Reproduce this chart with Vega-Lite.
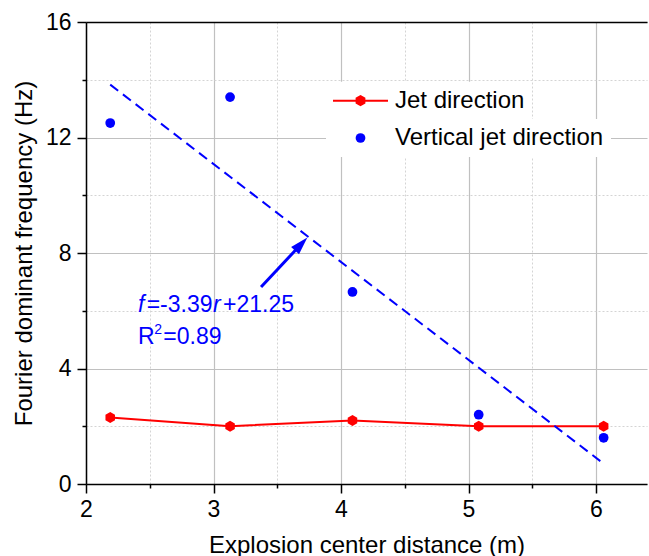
{
  "$schema": "https://vega.github.io/schema/vega-lite/v6.json",
  "width": 561,
  "height": 462,
  "autosize": {"type": "none"},
  "padding": {"left": 86, "top": 22, "right": 2, "bottom": 72},
  "config": {
    "view": {"stroke": null},
    "font": "Liberation Sans",
    "axis": {
      "labelFont": "Liberation Sans",
      "titleFont": "Liberation Sans",
      "labelFontSize": 23,
      "titleFontSize": 24,
      "labelColor": "#000000",
      "titleColor": "#000000",
      "titleFontWeight": "normal",
      "tickColor": "#000000",
      "domainColor": "#000000",
      "tickWidth": 1.5,
      "domainWidth": 1.5,
      "gridColor": "#c0c0c0",
      "gridWidth": 1.2,
      "tickSize": 9,
      "labelFlush": false,
      "labelOverlap": false
    },
    "legend": {"labelFont": "Liberation Sans", "labelFontSize": 24, "labelColor": "#000000", "labelLimit": 0, "padding": 7, "fillColor": "#ffffff"}
  },
  "datasets": {
    "pts": [
      {"series": "Jet direction", "r": 2.19, "f": 2.3},
      {"series": "Jet direction", "r": 3.13, "f": 2.0},
      {"series": "Jet direction", "r": 4.09, "f": 2.2},
      {"series": "Jet direction", "r": 5.08, "f": 2.0},
      {"series": "Jet direction", "r": 6.06, "f": 2.0},
      {"series": "Vertical jet direction", "r": 2.19, "f": 12.5},
      {"series": "Vertical jet direction", "r": 3.13, "f": 13.4},
      {"series": "Vertical jet direction", "r": 4.09, "f": 6.65},
      {"series": "Vertical jet direction", "r": 5.08, "f": 2.4},
      {"series": "Vertical jet direction", "r": 6.06, "f": 1.6}
    ],
    "fit": [
      {"r": 2.19, "f": 13.83},
      {"r": 6.07, "f": 0.67}
    ],
    "arrow": [
      {"r": 3.373, "f": 6.82, "r2": 3.688, "f2": 8.31}
    ],
    "italic": [
      {"t": "f", "r": 2.408, "f": 5.96},
      {"t": "r", "r": 2.997, "f": 5.96}
    ],
    "plain": [
      {"t": "=-3.39", "r": 2.476, "f": 5.96},
      {"t": "+21.25", "r": 3.075, "f": 5.96},
      {"t": "R", "r": 2.408, "f": 4.86},
      {"t": "=0.89", "r": 2.606, "f": 4.86}
    ],
    "sup": [
      {"t": "2", "r": 2.536, "f": 5.19}
    ]
  },
  "resolve": {"axis": {"x": "independent", "y": "independent"}},
  "layer": [
    {
      "data": {"name": "pts"},
      "mark": {"type": "point", "opacity": 0},
      "encoding": {
        "x": {"field": "r", "type": "quantitative", "scale": {"domain": [2, 6.4], "nice": false, "zero": false},
          "axis": {"orient": "bottom", "values": [2.5, 3.5, 4.5, 5.5], "grid": true, "gridDash": [2, 2], "gridColor": "#d4d4d4", "gridWidth": 1, "labels": false, "domain": false, "ticks": true, "tickSize": 4, "title": null}},
        "y": {"field": "f", "type": "quantitative", "scale": {"domain": [0, 16], "nice": false, "zero": false},
          "axis": {"orient": "left", "values": [2, 6, 10, 14], "grid": true, "gridDash": [2, 2], "gridColor": "#d4d4d4", "gridWidth": 1, "labels": false, "domain": false, "ticks": true, "tickSize": 4, "title": null}}
      }
    },
    {
      "data": {"name": "pts"},
      "mark": {"type": "point", "opacity": 0},
      "encoding": {
        "x": {"field": "r", "type": "quantitative", "scale": {"domain": [2, 6.4], "nice": false, "zero": false},
          "axis": {"orient": "top", "labels": false, "ticks": false, "grid": false, "domain": true, "title": null}},
        "y": {"field": "f", "type": "quantitative", "scale": {"domain": [0, 16], "nice": false, "zero": false}, "axis": null}
      }
    },
    {
      "data": {"name": "pts"},
      "transform": [{"filter": "datum.series === 'Jet direction'"}],
      "mark": {"type": "line", "strokeWidth": 2},
      "encoding": {
        "x": {"field": "r", "type": "quantitative", "scale": {"domain": [2, 6.4], "nice": false, "zero": false},
          "axis": {"orient": "bottom", "values": [2, 3, 4, 5, 6], "grid": true, "labelPadding": 5, "title": "Explosion center distance (m)", "titlePadding": 12}},
        "y": {"field": "f", "type": "quantitative", "scale": {"domain": [0, 16], "nice": false, "zero": false},
          "axis": {"orient": "left", "values": [0, 4, 8, 12, 16], "grid": true, "labelPadding": 6, "title": "Fourier dominant frequency (Hz)", "titlePadding": 9}},
        "color": {"field": "series", "type": "nominal",
          "scale": {"domain": ["Jet direction"], "range": ["#ff0000"]},
          "legend": {
            "orient": "none", "legendX": 240, "legendY": 59.7, "title": null,
            "symbolType": "M-5,0H5M0,-0.82L0.71,-0.41L0.71,0.41L0,0.82L-0.71,0.41L-0.71,-0.41Z",
            "symbolSize": 121, "symbolStrokeWidth": 2, "symbolStrokeColor": "#ff0000", "symbolFillColor": "#ff0000",
            "symbolOffset": 15.5, "labelOffset": 22.5,
            "labelExpr": "datum.label + '            '"
          }}
      }
    },
    {
      "data": {"name": "fit"},
      "mark": {"type": "line", "color": "#0000ff", "strokeWidth": 2, "strokeDash": [10, 6]},
      "encoding": {
        "x": {"field": "r", "type": "quantitative", "axis": null},
        "y": {"field": "f", "type": "quantitative", "axis": null}
      }
    },
    {
      "data": {"name": "pts"},
      "transform": [{"filter": "datum.series === 'Jet direction'"}],
      "mark": {"type": "point", "filled": true, "opacity": 1, "color": "#ff0000", "shape": "M0,-1L0.866,-0.5L0.866,0.5L0,1L-0.866,0.5L-0.866,-0.5Z", "size": 121},
      "encoding": {
        "x": {"field": "r", "type": "quantitative", "axis": null},
        "y": {"field": "f", "type": "quantitative", "axis": null}
      }
    },
    {
      "data": {"name": "pts"},
      "transform": [{"filter": "datum.series === 'Vertical jet direction'"}],
      "mark": {"type": "point", "filled": true, "opacity": 1, "shape": "circle", "size": 95},
      "encoding": {
        "x": {"field": "r", "type": "quantitative", "axis": null},
        "y": {"field": "f", "type": "quantitative", "axis": null},
        "fill": {"field": "series", "type": "nominal",
          "scale": {"domain": ["Vertical jet direction"], "range": ["#0000ff"]},
          "legend": {
            "orient": "none", "legendX": 240, "legendY": 97, "title": null,
            "symbolType": "circle", "symbolSize": 95, "symbolStrokeWidth": 0,
            "symbolOffset": 15.5, "labelOffset": 22.5
          }}
      }
    },
    {
      "data": {"name": "arrow"},
      "mark": {"type": "rule", "color": "#0000ff", "strokeWidth": 3},
      "encoding": {
        "x": {"field": "r", "type": "quantitative", "axis": null},
        "y": {"field": "f", "type": "quantitative", "axis": null},
        "x2": {"field": "r2"},
        "y2": {"field": "f2"}
      }
    },
    {
      "data": {"name": "arrow"},
      "mark": {"type": "point", "filled": true, "opacity": 1, "color": "#0000ff", "shape": "M0,-1L0.6,1L-0.6,1Z", "size": 324, "angle": 43},
      "encoding": {
        "x": {"field": "r2", "type": "quantitative", "axis": null},
        "y": {"field": "f2", "type": "quantitative", "axis": null}
      }
    },
    {
      "data": {"name": "italic"},
      "mark": {"type": "text", "align": "left", "baseline": "alphabetic", "fontSize": 23, "fontStyle": "italic", "color": "#0000ff", "font": "Liberation Sans"},
      "encoding": {
        "x": {"field": "r", "type": "quantitative", "axis": null},
        "y": {"field": "f", "type": "quantitative", "axis": null},
        "text": {"field": "t"}
      }
    },
    {
      "data": {"name": "plain"},
      "mark": {"type": "text", "align": "left", "baseline": "alphabetic", "fontSize": 23, "color": "#0000ff", "font": "Liberation Sans"},
      "encoding": {
        "x": {"field": "r", "type": "quantitative", "axis": null},
        "y": {"field": "f", "type": "quantitative", "axis": null},
        "text": {"field": "t"}
      }
    },
    {
      "data": {"name": "sup"},
      "mark": {"type": "text", "align": "left", "baseline": "alphabetic", "fontSize": 14, "color": "#0000ff", "font": "Liberation Sans"},
      "encoding": {
        "x": {"field": "r", "type": "quantitative", "axis": null},
        "y": {"field": "f", "type": "quantitative", "axis": null},
        "text": {"field": "t"}
      }
    }
  ]
}
